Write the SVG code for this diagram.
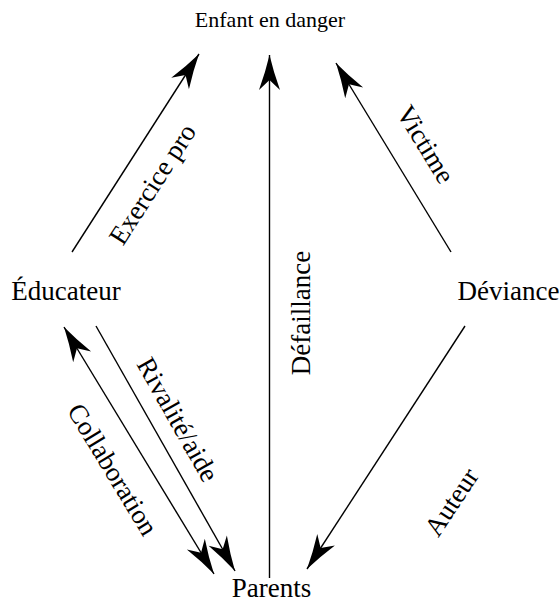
<svg xmlns="http://www.w3.org/2000/svg" width="560" height="604" viewBox="0 0 560 604">
<style>
text{font-family:"Liberation Serif","Times New Roman",serif;font-size:27px;fill:#000}
text.title{font-size:22px}
.c line{stroke:#000;stroke-width:1.4;fill:none}
</style>
<defs>
<marker id="ah" markerUnits="userSpaceOnUse" orient="auto-start-reverse" markerWidth="40" markerHeight="26" viewBox="-37 -13 40 26" refX="0" refY="0">
<path d="M0,0 Q-17,-4 -35,-10.5 L-25,0 L-35,10.5 Q-17,4 0,0 Z" fill="#000"/>
</marker>
</defs>
<rect width="560" height="604" fill="#fff"/>
<g id="n-enfant"><text class="title" x="270" y="27" text-anchor="middle">Enfant en danger</text></g>
<g id="n-educateur"><text x="66" y="300" text-anchor="middle">Éducateur</text></g>
<g id="n-deviance"><text x="508.5" y="300" text-anchor="middle">Déviance</text></g>
<g id="n-parents"><text x="271.5" y="597" text-anchor="middle">Parents</text></g>
<g class="c" id="connectors">
<line x1="72" y1="252" x2="199" y2="54" marker-end="url(#ah)"/>
<line x1="269.5" y1="578" x2="269.5" y2="55" marker-end="url(#ah)"/>
<line x1="451" y1="252" x2="336" y2="63" marker-end="url(#ah)"/>
<line x1="465" y1="326" x2="307" y2="569" marker-end="url(#ah)"/>
<line x1="96" y1="326" x2="235" y2="571" marker-end="url(#ah)"/>
<line x1="64" y1="327" x2="214" y2="574" marker-start="url(#ah)" marker-end="url(#ah)"/>
</g>
<g id="labels">
<text transform="translate(160,189) rotate(-57.3)" text-anchor="middle">Exercice pro</text>
<text transform="translate(418,149) rotate(58.7)" text-anchor="middle">Victime</text>
<text transform="translate(310,313) rotate(-90)" text-anchor="middle">Défaillance</text>
<text transform="translate(170,424) rotate(60.5)" text-anchor="middle">Rivalité/aide</text>
<text transform="translate(105,474) rotate(58.8)" text-anchor="middle">Collaboration</text>
<text transform="translate(459,507) rotate(-56.6)" text-anchor="middle">Auteur</text>
</g>
</svg>
